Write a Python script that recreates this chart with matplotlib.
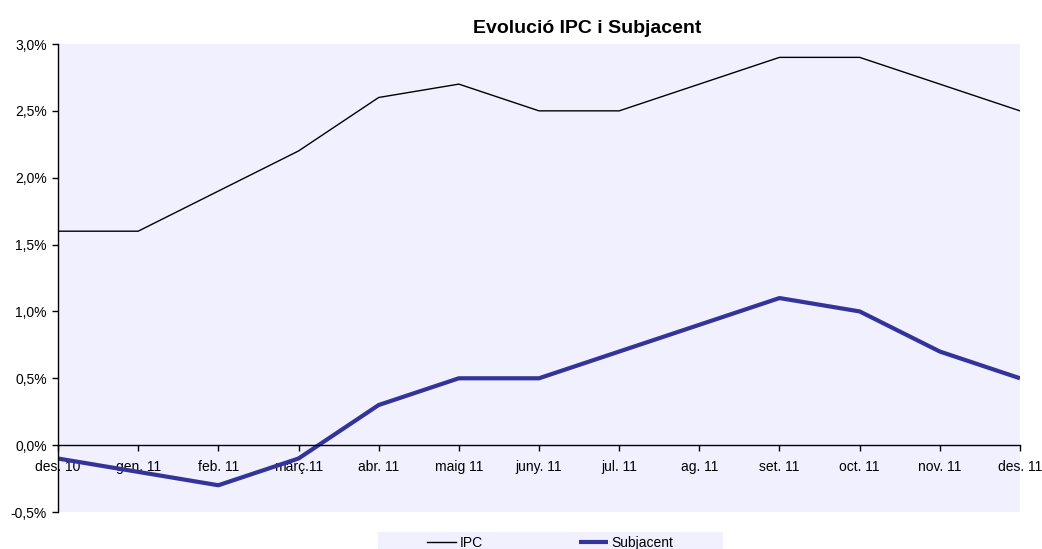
import matplotlib
matplotlib.use("Agg")
import matplotlib.pyplot as plt
from matplotlib.ticker import FuncFormatter
from matplotlib.patches import Rectangle

plt.rcParams['font.family'] = ['Liberation Sans', 'DejaVu Sans']

months = ["des. 10", "gen. 11", "feb. 11", "març.11", "abr. 11", "maig 11", "juny. 11",
          "jul. 11", "ag. 11", "set. 11", "oct. 11", "nov. 11", "des. 11"]
ipc = [1.6, 1.6, 1.9, 2.2, 2.6, 2.7, 2.5, 2.5, 2.7, 2.9, 2.9, 2.7, 2.5]
subjacent = [-0.1, -0.2, -0.3, -0.1, 0.3, 0.5, 0.5, 0.7, 0.9, 1.1, 1.0, 0.7, 0.5]

W, H = 1042, 549
fig = plt.figure(figsize=(W / 100, H / 100), dpi=100)
ax = fig.add_axes([58 / W, 1 - 512 / H, (1020 - 58) / W, (512 - 44) / H])
bg = '#F0F0FF'
ax.set_facecolor(bg)

x = list(range(len(months)))
l1, = ax.plot(x, ipc, color='black', lw=1.0, label='IPC')
l2, = ax.plot(x, subjacent, color='#333399', lw=3.0, label='Subjacent', solid_capstyle='butt')

ax.set_xlim(0, len(months) - 1)
ax.set_ylim(-0.5, 3.0)
ax.set_yticks([-0.5, 0, 0.5, 1.0, 1.5, 2.0, 2.5, 3.0])
ax.yaxis.set_major_formatter(FuncFormatter(lambda v, p: f"{v:.1f}%".replace('.', ',')))
ax.set_xticks(x)
ax.set_xticklabels(months)

for s in ['top', 'right']:
    ax.spines[s].set_visible(False)
ax.spines['bottom'].set_position(('data', 0))
ax.spines['left'].set_linewidth(1.0)
ax.spines['bottom'].set_linewidth(1.0)
ax.tick_params(axis='both', direction='out', length=4, width=1, labelsize=10, colors='black')
ax.tick_params(axis='x', pad=7)
ax.tick_params(axis='y', pad=4)

fig.text(587 / W, 1 - 33 / H, "Evolució IPC i Subjacent", ha='center', va='baseline',
         fontsize=14, fontweight='bold')

# legend background box
fig.patches.append(Rectangle((378 / W, 0), (723 - 378) / W, (549 - 532) / H,
                             transform=fig.transFigure, facecolor=bg, edgecolor='none',
                             zorder=0))
leg = fig.legend(handles=[l1, l2], loc='center', bbox_to_anchor=(550 / W, 1 - 543 / H),
                 ncol=2, frameon=False, fontsize=10, handlelength=2.1, handletextpad=0.25,
                 columnspacing=6.9, borderpad=0.0)

fig.savefig("out.png", dpi=100)
